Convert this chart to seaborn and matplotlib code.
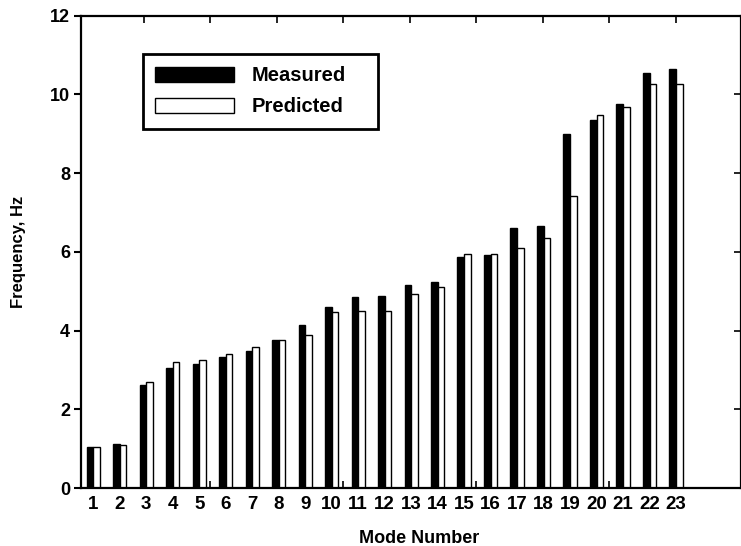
import numpy as np
import pandas as pd
import matplotlib
matplotlib.use('Agg')
import matplotlib.pyplot as plt
import seaborn as sns

# Valeurs (Hz)
modes = [str(i) for i in range(1, 24)]
measured = [1.05, 1.12, 2.62, 3.05, 3.16, 3.33, 3.48, 3.77, 4.15, 4.60, 4.84, 4.87,
            5.16, 5.22, 5.87, 5.92, 6.60, 6.66, 9.00, 9.34, 9.74, 10.54, 10.65]
predicted = [1.05, 1.08, 2.70, 3.20, 3.25, 3.40, 3.57, 3.77, 3.88, 4.47, 4.49, 4.50,
             4.92, 5.10, 5.94, 5.95, 6.09, 6.36, 7.41, 9.47, 9.67, 10.26, 10.26]
series = ['Measured', 'Predicted']
y_ticks = [0, 2, 4, 6, 8, 10, 12]

df = pd.DataFrame({
    'mode': modes * 2,
    'freq': measured + predicted,
    'kind': [series[0]] * len(modes) + [series[1]] * len(modes),
})

sns.set_style('white')
plt.rcParams['font.family'] = ['Liberation Sans', 'DejaVu Sans']
plt.rcParams['font.weight'] = 'bold'
for key in ['text.color', 'axes.labelcolor', 'xtick.color', 'ytick.color']:
    plt.rcParams[key] = 'black'

fig = plt.figure(figsize=(7.41, 5.46), dpi=100)
ax = fig.add_axes([0.1093, 0.1062, 0.8907, 0.8654])

sns.barplot(data=df, x='mode', y='freq', hue='kind', hue_order=series,
            palette={'Measured': 'black', 'Predicted': 'white'},
            width=0.5, edgecolor='black', linewidth=1.0, saturation=1,
            ax=ax)

ax.set_xlim(-0.46, 24.45)
ax.set_ylim(0, 12)
ax.set_yticks(y_ticks)
ax.set_yticklabels([str(v) for v in y_ticks], fontsize=13, fontweight='bold')
ax.set_xticks(range(len(modes)))
ax.set_xticklabels(modes, fontsize=13.5, fontweight='bold')

for s in ax.spines.values():
    s.set_visible(True)
    s.set_color('black')
    s.set_linewidth(1.6)

ax.tick_params(axis='y', which='major', direction='out', length=5, width=1.5,
               pad=3, left=True)
ax.tick_params(axis='x', which='major', length=0, pad=6)
ax.set_xticks(np.arange(1.9, 24, 2.51), minor=True)
ax.tick_params(axis='x', which='minor', direction='in', length=5, width=1.2,
               top=True, bottom=True)

right = ax.secondary_yaxis('right')
right.set_yticks(y_ticks[1:-1])
right.tick_params(direction='in', length=5, width=1.2, labelright=False)

ax.set_ylabel('Frequency, Hz', fontsize=12, fontweight='bold', labelpad=17)
ax.set_xlabel('Mode Number', fontsize=13, fontweight='bold')
ax.xaxis.set_label_coords(0.513, -0.088)

handles, labels = ax.get_legend_handles_labels()
leg = ax.legend(handles, labels, loc='upper left',
                bbox_to_anchor=(0.094, 0.77, 0.356, 0.148), mode='expand',
                borderaxespad=0, fancybox=False, framealpha=1,
                prop={'size': 14.5, 'weight': 'bold'},
                handlelength=3.9, handleheight=0.75, handletextpad=0.9,
                borderpad=0.6, labelspacing=0.6)
leg.get_frame().set_edgecolor('black')
leg.get_frame().set_linewidth(2)

fig.savefig('out.png', dpi=100)
